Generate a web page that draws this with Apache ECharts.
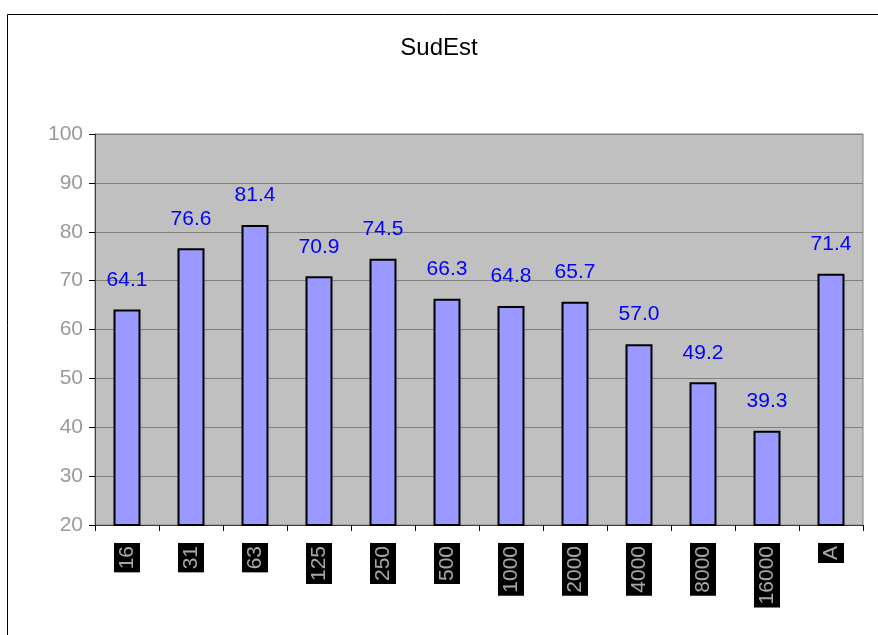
<!DOCTYPE html>
<html>
<head>
<meta charset="utf-8">
<script src="https://cdn.jsdelivr.net/npm/echarts@6/dist/echarts.min.js"></script>
<style>
  html, body { margin: 0; padding: 0; background: #fff; }
  #chart { width: 878px; height: 635px; }
</style>
</head>
<body>
<div id="chart"></div>
<script>
const categories = ["16", "31", "63", "125", "250", "500", "1000", "2000", "4000", "8000", "16000", "A"];
const values = [64.1, 76.6, 81.4, 70.9, 74.5, 66.3, 64.8, 65.7, 57.0, 49.2, 39.3, 71.4];
const yMin = 20;
const yMax = 100;
const yStep = 10;

const chart = echarts.init(document.getElementById("chart"));
chart.setOption({
  animation: false,
  backgroundColor: "#fff",
  textStyle: { fontFamily: "Liberation Sans, Arial, sans-serif" },
  graphic: [
    {
      type: "rect",
      left: 5,
      top: 12,
      shape: { width: 900, height: 700 },
      style: { fill: "none", stroke: "#000", lineWidth: 1 },
      silent: true,
    },
  ],
  title: {
    text: "SudEst",
    left: "center",
    top: 31,
    textStyle: { fontSize: 24, fontWeight: "normal", color: "#000" },
  },
  grid: {
    left: 95,
    right: 15,
    top: 134,
    bottom: 110,
    show: true,
    backgroundColor: "#C0C0C0",
    borderColor: "#808080",
    borderWidth: 1,
  },
  xAxis: {
    type: "category",
    data: categories,
    axisLine: { lineStyle: { color: "#404040", width: 1 } },
    axisTick: { show: true, alignWithLabel: false, length: 6, lineStyle: { color: "#000" } },
    axisLabel: {
      rotate: 90,
      margin: 18,
      color: "#a8a8a8",
      fontSize: 21,
      backgroundColor: "#000",
      padding: [3, 3, 2, 3],
      interval: 0,
    },
  },
  yAxis: {
    type: "value",
    min: yMin,
    max: yMax,
    interval: yStep,
    axisLine: { show: true, lineStyle: { color: "#404040", width: 1 } },
    axisTick: { show: true, length: 6, lineStyle: { color: "#000" } },
    axisLabel: { color: "#9a9a9a", fontSize: 21, margin: 12 },
    splitLine: { lineStyle: { color: "#808080", width: 1 } },
  },
  series: [
    {
      type: "bar",
      data: values,
      barWidth: 27,
      itemStyle: { color: "#9999FF", borderColor: "#000", borderWidth: 2 },
      label: {
        show: true,
        position: "top",
        distance: 19,
        color: "#0000FF",
        fontSize: 21,
        formatter: (p) => p.value.toFixed(1),
      },
    },
  ],
});
</script>
</body>
</html>
